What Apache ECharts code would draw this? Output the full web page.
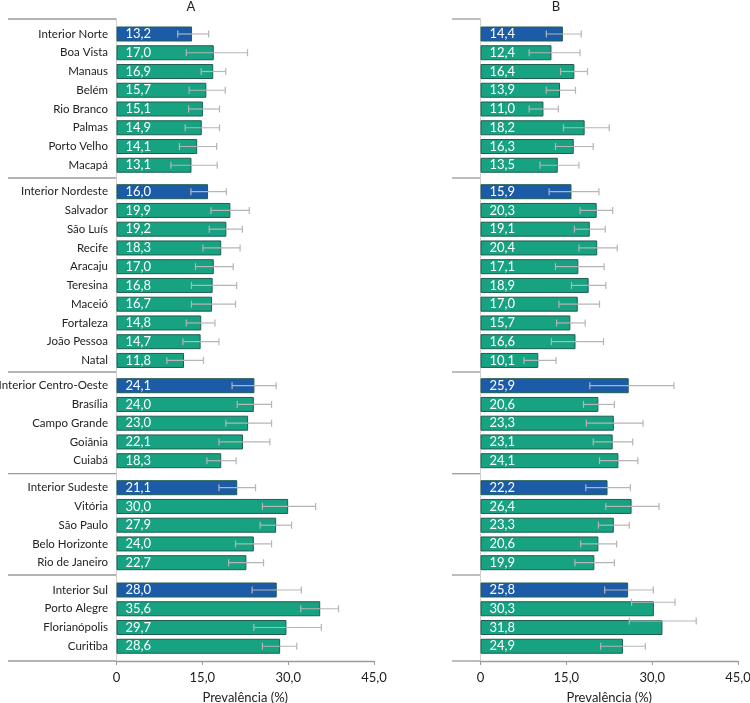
<!DOCTYPE html>
<html>
<head>
<meta charset="utf-8">
<script src="https://cdn.jsdelivr.net/npm/echarts@6/dist/echarts.min.js"></script>
<style>
  html, body { margin: 0; padding: 0; background: #fff; }
  #chart { width: 750px; height: 703px; }
</style>
</head>
<body>
<div id="chart"></div>
<script>
// categorias (agrupadas por região)
const categories = [
  'Interior Norte', 'Boa Vista', 'Manaus', 'Belém', 'Rio Branco', 'Palmas', 'Porto Velho', 'Macapá',
  'Interior Nordeste', 'Salvador', 'São Luís', 'Recife', 'Aracaju', 'Teresina', 'Maceió', 'Fortaleza', 'João Pessoa', 'Natal',
  'Interior Centro-Oeste', 'Brasília', 'Campo Grande', 'Goiânia', 'Cuiabá',
  'Interior Sudeste', 'Vitória', 'São Paulo', 'Belo Horizonte', 'Rio de Janeiro',
  'Interior Sul', 'Porto Alegre', 'Florianópolis', 'Curitiba'
]
const groupSizes = [8, 10, 5, 5, 4]

// painel A
const valuesA = [13.2, 17.0, 16.9, 15.7, 15.1, 14.9, 14.1, 13.1,
  16.0, 19.9, 19.2, 18.3, 17.0, 16.8, 16.7, 14.8, 14.7, 11.8,
  24.1, 24.0, 23.0, 22.1, 18.3,
  21.1, 30.0, 27.9, 24.0, 22.7,
  28.0, 35.6, 29.7, 28.6]
const lowA = [10.7, 12.2, 14.8, 12.7, 12.6, 12.0, 11.0, 9.5,
  13.0, 16.5, 16.2, 15.1, 13.8, 13.1, 13.1, 12.2, 11.6, 8.8,
  20.2, 21.1, 19.1, 17.9, 15.8,
  17.9, 25.5, 25.1, 20.8, 19.6,
  23.7, 32.2, 24.0, 25.5]
const highA = [16.1, 22.9, 19.1, 19.0, 18.0, 18.0, 17.5, 17.6,
  19.2, 23.2, 22.0, 21.6, 20.4, 21.0, 20.8, 17.2, 17.9, 15.2,
  27.9, 27.1, 27.1, 26.8, 20.9,
  24.3, 34.8, 30.6, 27.1, 25.7,
  32.3, 38.8, 35.8, 31.5]

// painel B
const valuesB = [14.4, 12.4, 16.4, 13.9, 11.0, 18.2, 16.3, 13.5,
  15.9, 20.3, 19.1, 20.4, 17.1, 18.9, 17.0, 15.7, 16.6, 10.1,
  25.9, 20.6, 23.3, 23.1, 24.1,
  22.2, 26.4, 23.3, 20.6, 19.9,
  25.8, 30.3, 31.8, 24.9]
const lowB = [11.5, 8.5, 14.0, 11.5, 8.5, 14.5, 13.1, 10.4,
  12.0, 17.4, 16.4, 17.2, 13.1, 15.9, 13.7, 13.3, 12.4, 7.6,
  19.1, 18.0, 18.5, 19.7, 20.8,
  18.4, 21.9, 20.6, 17.5, 16.5,
  21.7, 26.4, 26.0, 21.0]
const highB = [17.6, 17.4, 18.7, 16.6, 13.6, 22.5, 19.7, 17.2,
  20.7, 23.1, 21.8, 23.9, 21.6, 21.9, 20.8, 18.3, 21.5, 13.2,
  33.8, 23.4, 28.4, 26.6, 27.5,
  26.2, 31.2, 26.0, 23.8, 23.4,
  30.2, 34.0, 37.7, 28.8]

// no painel B, estas barras de erro aparecem na borda superior da barra
const errOnEdgeB = ['Porto Alegre', 'Florianópolis']

// layout
const FONT = 'Lato'
const panelLeft = [116.5, 480.5]
const panelWidth = 257.5
const sepLeft = [8, 452]
const step = 18.75
const barW = 15
const firstCenter = [34, 191.7, 385.7, 487.7, 590]
const sepY = [19, 178, 372, 473.7, 575, 661]
const BLUE = '#1b5ba8'
const GREEN = '#17a281'

const chart = echarts.init(document.getElementById('chart'))

const fmt = v => v === 0 ? '0' : v.toFixed(1).replace('.', ',')

const grid = []
const xAxis = []
const yAxis = []
const series = []
const graphic = []

const panels = [
  { values: valuesA, low: lowA, high: highA, edge: [] },
  { values: valuesB, low: lowB, high: highB, edge: errOnEdgeB }
]

panels.forEach((panel, p) => {
  let start = 0
  groupSizes.forEach((n, g) => {
    const idx = grid.length
    const cats = categories.slice(start, start + n)
    grid.push({
      left: panelLeft[p],
      width: panelWidth,
      top: firstCenter[g] - step / 2,
      height: n * step,
      outerBoundsMode: 'none',
      containLabel: false
    })
    xAxis.push({ gridIndex: idx, type: 'value', min: 0, max: 45, show: false })
    yAxis.push({
      gridIndex: idx,
      type: 'category',
      inverse: true,
      data: cats,
      axisLine: { show: false },
      axisTick: { show: false },
      axisLabel: {
        show: p === 0,
        margin: 8.5,
        fontFamily: FONT,
        fontSize: 11.5,
        color: '#222'
      }
    })
    const vals = panel.values.slice(start, start + n)
    series.push({
      type: 'bar',
      xAxisIndex: idx,
      yAxisIndex: idx,
      barWidth: barW,
      data: vals.map((v, i) => ({
        value: v,
        itemStyle: { color: i === 0 ? BLUE : GREEN }
      })),
      itemStyle: { borderColor: '#205e50', borderWidth: 1 },
      label: {
        show: true,
        position: 'insideLeft',
        distance: 9,
        formatter: d => fmt(d.value),
        color: '#fff',
        fontFamily: FONT,
        fontSize: 13
      },
      z: 2
    })
    const errData = vals.map((v, i) => [
      panel.low[start + i],
      panel.high[start + i],
      i,
      panel.edge.includes(cats[i]) ? 1 : 0
    ])
    series.push({
      type: 'custom',
      xAxisIndex: idx,
      yAxisIndex: idx,
      data: errData,
      encode: { x: [0, 1], y: 2 },
      renderItem: (params, api) => {
        const dy = api.value(3) ? -(barW / 2 - 1) : 0
        const a = api.coord([api.value(0), api.value(2)])
        const b = api.coord([api.value(1), api.value(2)])
        const y = a[1] + dy
        const h = 3.5
        const style = { stroke: '#b5b5b5', lineWidth: 1.2 }
        return {
          type: 'group',
          children: [
            { type: 'line', shape: { x1: a[0], y1: y, x2: b[0], y2: y }, style },
            { type: 'line', shape: { x1: a[0], y1: y - h, x2: a[0], y2: y + h }, style },
            { type: 'line', shape: { x1: b[0], y1: y - h, x2: b[0], y2: y + h }, style }
          ]
        }
      },
      z: 5
    })
    start += n
  })

  // moldura do painel: eixo x e linha vertical
  const fi = grid.length
  grid.push({
    left: panelLeft[p],
    width: panelWidth,
    top: sepY[0],
    height: sepY[5] - sepY[0],
    outerBoundsMode: 'none',
    containLabel: false
  })
  xAxis.push({
    gridIndex: fi,
    type: 'value',
    min: 0,
    max: 45,
    interval: 15,
    axisLine: { show: true, lineStyle: { color: '#9a9a9a', width: 1.3 } },
    axisTick: { show: true, length: 4, lineStyle: { color: '#9a9a9a' } },
    splitLine: { show: false },
    axisLabel: {
      margin: 10,
      formatter: fmt,
      fontFamily: FONT,
      fontSize: 13,
      color: '#222'
    },
    name: 'Prevalência (%)',
    nameLocation: 'middle',
    nameGap: 30,
    nameTextStyle: { fontFamily: FONT, fontSize: 13, color: '#222' }
  })
  yAxis.push({
    gridIndex: fi,
    type: 'value',
    min: 0,
    max: 1,
    axisLine: { show: true, lineStyle: { color: '#cfcfcf', width: 1 } },
    axisTick: { show: false },
    axisLabel: { show: false },
    splitLine: { show: false }
  })

  // linhas separadoras dos grupos
  sepY.forEach(y => {
    graphic.push({
      type: 'line',
      shape: { x1: sepLeft[p], y1: y, x2: panelLeft[p], y2: y },
      style: { stroke: '#9a9a9a', lineWidth: 1.3 },
      silent: true
    })
  })
})

graphic.push(
  { type: 'text', x: 191, y: 7, style: { text: 'A', align: 'center', verticalAlign: 'middle', font: '13px ' + FONT, fill: '#222' } },
  { type: 'text', x: 556, y: 7, style: { text: 'B', align: 'center', verticalAlign: 'middle', font: '13px ' + FONT, fill: '#222' } }
)

chart.setOption({
  animation: false,
  grid,
  xAxis,
  yAxis,
  series,
  graphic
})

window.addEventListener('resize', () => chart.resize())
</script>
</body>
</html>
